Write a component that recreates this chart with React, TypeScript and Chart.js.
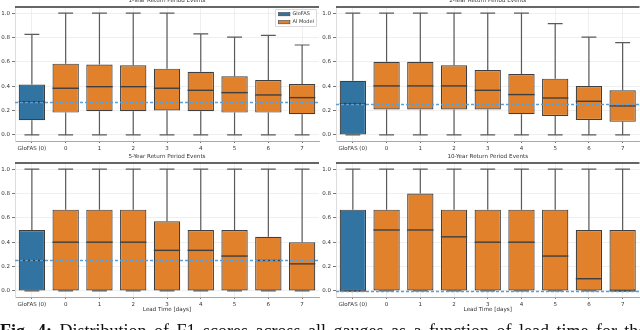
import React, { useEffect, useRef } from "react";
import { Chart, registerables } from "chart.js";
Chart.register(...registerables);

const categories = ["GloFAS (0)", "0", "1", "2", "3", "4", "5", "6", "7"];
const yTicks = [0, 0.2, 0.4, 0.6, 0.8, 1.0];
const legendLabels = ["GloFAS", "AI Model"];

// 1-Year Return Period Events
const y1Min = [0, 0, 0, 0, 0, 0, 0, 0, 0];
const y1Q1 = [0.12, 0.183, 0.194, 0.194, 0.2, 0.194, 0.183, 0.183, 0.169];
const y1Med = [0.273, 0.383, 0.396, 0.396, 0.383, 0.366, 0.347, 0.328, 0.306];
const y1Q3 = [0.413, 0.585, 0.577, 0.571, 0.544, 0.519, 0.481, 0.451, 0.418];
const y1Max = [0.825, 1, 1, 1, 1, 0.83, 0.803, 0.817, 0.738];

// 2-Year Return Period Events
const y2Min = [0, 0, 0, 0, 0, 0, 0, 0, 0];
const y2Q1 = [0, 0.208, 0.208, 0.208, 0.208, 0.169, 0.156, 0.123, 0.107];
const y2Med = [0.257, 0.402, 0.402, 0.402, 0.366, 0.331, 0.303, 0.276, 0.238];
const y2Q3 = [0.445, 0.601, 0.601, 0.571, 0.533, 0.5, 0.462, 0.402, 0.366];
const y2Max = [1, 1, 1, 1, 1, 1, 0.913, 0.803, 0.757];

// 5-Year Return Period Events
const y5Min = [0, 0, 0, 0, 0, 0, 0, 0, 0];
const y5Q1 = [0, 0, 0, 0, 0, 0, 0, 0, 0];
const y5Med = [0.25, 0.4, 0.4, 0.4, 0.333, 0.333, 0.286, 0.25, 0.222];
const y5Q3 = [0.5, 0.667, 0.667, 0.667, 0.571, 0.5, 0.5, 0.444, 0.4];
const y5Max = [1, 1, 1, 1, 1, 1, 1, 1, 1];

// 10-Year Return Period Events
const y10Min = [0, 0, 0, 0, 0, 0, 0, 0, 0];
const y10Q1 = [0, 0, 0, 0, 0, 0, 0, 0, 0];
const y10Med = [0, 0.5, 0.5, 0.444, 0.4, 0.4, 0.286, 0.1, 0];
const y10Q3 = [0.667, 0.667, 0.8, 0.667, 0.667, 0.667, 0.667, 0.5, 0.5];
const y10Max = [1, 1, 1, 1, 1, 1, 1, 1, 1];

const BLUE = "#3274A1";
const ORANGE = "#E1812C";
const EDGE = "#3f3f3f";
const FONT = "DejaVu Sans";

type PanelProps = {
  title: string;
  min: number[];
  q1: number[];
  med: number[];
  q3: number[];
  max: number[];
  left: number;
  top: number;
  width: number;
  height: number;
  yAxisWidth: number;
  xAxisHeight: number;
  padTop: number;
  padRight: number;
  legend?: boolean;
  xTitle?: string;
};

function Panel(p: PanelProps) {
  const ref = useRef<HTMLCanvasElement | null>(null);
  useEffect(() => {
    if (!ref.current) return;
    const extras = {
      id: "boxExtras",
      beforeDatasetsDraw(chart: any) {
        const { ctx, scales } = chart;
        const x = scales.x;
        const y = scales.y;
        const sp = x.getPixelForValue(1) - x.getPixelForValue(0);
        const cap = sp * 0.22;
        ctx.save();
        ctx.strokeStyle = "#5a5a5a";
        ctx.lineWidth = 1.2;
        categories.forEach((_c, i) => {
          const cx = x.getPixelForValue(i);
          const yMax = y.getPixelForValue(p.max[i]);
          const yMin = y.getPixelForValue(p.min[i]);
          ctx.beginPath();
          ctx.moveTo(cx, y.getPixelForValue(p.q3[i]));
          ctx.lineTo(cx, yMax);
          ctx.moveTo(cx - cap, yMax);
          ctx.lineTo(cx + cap, yMax);
          ctx.moveTo(cx, y.getPixelForValue(p.q1[i]));
          ctx.lineTo(cx, yMin);
          ctx.moveTo(cx - cap, yMin);
          ctx.lineTo(cx + cap, yMin);
          ctx.stroke();
        });
        ctx.restore();
      },
      afterDatasetsDraw(chart: any) {
        const { ctx, chartArea, scales } = chart;
        const y = scales.y;
        const meta = chart.getDatasetMeta(0);
        ctx.save();
        ctx.strokeStyle = EDGE;
        ctx.lineWidth = 1.4;
        meta.data.forEach((el: any, i: number) => {
          const my = y.getPixelForValue(p.med[i]);
          ctx.beginPath();
          ctx.moveTo(el.x - el.width / 2, my);
          ctx.lineTo(el.x + el.width / 2, my);
          ctx.stroke();
        });
        // reference line at GloFAS median
        const ry = Math.round(y.getPixelForValue(p.med[0])) + 0.5;
        ctx.strokeStyle = "#5b9fd9";
        ctx.globalAlpha = 1;
        ctx.lineWidth = 1.5;
        ctx.setLineDash([3, 2]);
        ctx.beginPath();
        ctx.moveTo(chartArea.left, ry);
        ctx.lineTo(chartArea.right, ry);
        ctx.stroke();
        ctx.setLineDash([]);
        // top spine
        ctx.strokeStyle = "#333";
        ctx.lineWidth = 1.5;
        ctx.beginPath();
        ctx.moveTo(chartArea.left, chartArea.top);
        ctx.lineTo(chartArea.right, chartArea.top);
        ctx.stroke();
        // legend
        if (p.legend) {
          const fw = 41;
          const fh = 17;
          const fx = chartArea.right - 2.5 - fw;
          const fy = chartArea.top + 2.5;
          ctx.fillStyle = "rgba(255,255,255,0.85)";
          ctx.strokeStyle = "#d0d0d0";
          ctx.lineWidth = 0.8;
          ctx.beginPath();
          ctx.rect(fx, fy, fw, fh);
          ctx.fill();
          ctx.stroke();
          const cols = [BLUE, ORANGE];
          legendLabels.forEach((lab, k) => {
            const cy = fy + 4.7 + k * 8;
            ctx.fillStyle = cols[k];
            ctx.fillRect(fx + 3, cy - 1.6, 11.4, 3.2);
            ctx.strokeStyle = EDGE;
            ctx.lineWidth = 0.6;
            ctx.strokeRect(fx + 3, cy - 1.6, 11.4, 3.2);
            ctx.fillStyle = "#333";
            ctx.font = `5px ${FONT}`;
            ctx.textBaseline = "middle";
            ctx.textAlign = "left";
            ctx.fillText(lab, fx + 17, cy);
          });
        }
        ctx.restore();
      },
      afterDraw(chart: any) {
        const { ctx, chartArea } = chart;
        ctx.save();
        ctx.fillStyle = "#333";
        ctx.font = `5.6px ${FONT}`;
        ctx.textAlign = "center";
        ctx.textBaseline = "middle";
        const cx = (chartArea.left + chartArea.right) / 2;
        ctx.fillText(p.title, cx, chartArea.top - 6.5);
        if (p.xTitle) {
          ctx.fillText(p.xTitle, cx, chartArea.bottom + 13);
        }
        ctx.restore();
      },
    };

    const chart = new Chart(ref.current, {
      type: "bar",
      data: {
        labels: categories,
        datasets: [
          {
            label: "box",
            data: categories.map((_c, i) => [p.q1[i], p.q3[i]]) as any,
            backgroundColor: categories.map((_c, i) => (i === 0 ? BLUE : ORANGE)),
            borderColor: EDGE,
            borderWidth: 1.2,
            borderSkipped: false,
            barPercentage: 0.78,
            categoryPercentage: 1,
          },
        ],
      },
      options: {
        animation: false,
        responsive: false,
        devicePixelRatio: 1,
        layout: { padding: { top: p.padTop, right: p.padRight, left: 0, bottom: 0 } },
        plugins: { legend: { display: false }, tooltip: { enabled: false }, title: { display: false } },
        scales: {
          x: {
            offset: true,
            grid: {
              offset: false,
              color: "#ebebeb",
              lineWidth: 0.8,
              drawTicks: true,
              tickLength: 2,
              tickColor: "#555",
            },
            border: { color: "#a8a8a8", width: 1 },
            ticks: {
              font: { family: FONT, size: 5.5 },
              color: "#333",
              padding: 2,
              maxRotation: 0,
              autoSkip: false,
            },
            afterFit: (s: any) => {
              s.height = p.xAxisHeight;
            },
          },
          y: {
            min: -0.05,
            max: 1.05,
            afterBuildTicks: (s: any) => {
              s.ticks = yTicks.map((v) => ({ value: v }));
            },
            grid: {
              color: "#ebebeb",
              lineWidth: 0.8,
              drawTicks: true,
              tickLength: 3,
              tickColor: "#555",
            },
            border: { color: "#dcdcdc", width: 1 },
            ticks: {
              font: { family: FONT, size: 5.5 },
              color: "#333",
              padding: 2,
              callback: (v: any) => Number(v).toFixed(1),
            },
            afterFit: (s: any) => {
              s.width = p.yAxisWidth;
            },
          },
        },
      },
      plugins: [extras],
    });
    return () => chart.destroy();
  }, []);
  return (
    <canvas
      ref={ref}
      width={p.width}
      height={p.height}
      style={{ position: "absolute", left: p.left, top: p.top, width: p.width, height: p.height }}
    />
  );
}

export default function App() {
  return (
    <div style={{ position: "absolute", left: 0, top: 0, width: 640, height: 330, overflow: "hidden", background: "#fff" }}>
      <Panel
        title="1-Year Return Period Events"
        min={y1Min} q1={y1Q1} med={y1Med} q3={y1Q3} max={y1Max}
        left={0} top={0} width={320} height={160}
        yAxisWidth={15} xAxisHeight={19} padTop={7} padRight={1}
        legend
      />
      <Panel
        title="2-Year Return Period Events"
        min={y2Min} q1={y2Q1} med={y2Med} q3={y2Q3} max={y2Max}
        left={320} top={0} width={320} height={160}
        yAxisWidth={16} xAxisHeight={19} padTop={7} padRight={0.5}
      />
      <Panel
        title="5-Year Return Period Events"
        min={y5Min} q1={y5Q1} med={y5Med} q3={y5Q3} max={y5Max}
        left={0} top={150} width={320} height={165}
        yAxisWidth={15} xAxisHeight={18} padTop={13} padRight={1}
        xTitle="Lead Time [days]"
      />
      <Panel
        title="10-Year Return Period Events"
        min={y10Min} q1={y10Q1} med={y10Med} q3={y10Q3} max={y10Max}
        left={320} top={150} width={320} height={165}
        yAxisWidth={16} xAxisHeight={18} padTop={13} padRight={0.5}
        xTitle="Lead Time [days]"
      />
      <div
        style={{
          position: "absolute",
          left: 0,
          top: 322,
          width: 720,
          whiteSpace: "nowrap",
          fontFamily: "'Liberation Serif', serif",
          fontSize: 18,
          lineHeight: "18px",
          wordSpacing: 3,
          color: "#111",
        }}
      >
        <b>Fig. 4:</b> Distribution of F1 scores across all gauges as a function of lead time for the
      </div>
    </div>
  );
}
